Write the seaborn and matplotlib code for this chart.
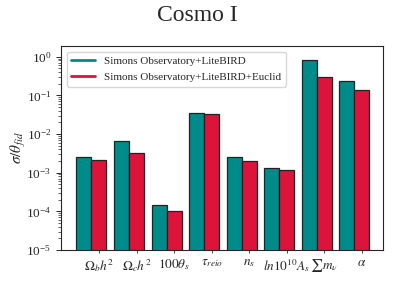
import numpy as np
import pandas as pd
import matplotlib
matplotlib.use("Agg")
import matplotlib.pyplot as plt
import seaborn as sns
from matplotlib.lines import Line2D

params = [r"$\Omega_b h^2$", r"$\Omega_c h^2$", r"$100\theta_s$", r"$\tau_{reio}$",
          r"$n_s$", r"$ln10^{10}A_s$", r"$\sum m_\nu$", r"$\alpha$"]
so_lb = [2.5e-3, 6.6e-3, 1.44e-4, 3.5e-2, 2.5e-3, 1.32e-3, 0.82, 0.23]
so_lb_euclid = [2.1e-3, 3.3e-3, 1.05e-4, 3.3e-2, 1.95e-3, 1.2e-3, 0.30, 0.14]
labels = ["Simons Observatory+LiteBIRD", "Simons Observatory+LiteBIRD+Euclid"]
colors = ["darkcyan", "crimson"]

sns.set_style("ticks")
plt.rcParams['font.family'] = ['Liberation Serif', 'DejaVu Serif']
plt.rcParams['mathtext.fontset'] = 'stix'

df = pd.DataFrame({
    "param": params * 2,
    "value": so_lb + so_lb_euclid,
    "exp": [labels[0]] * len(params) + [labels[1]] * len(params),
})

fig = plt.figure(figsize=(3.97, 2.83), dpi=100)
ax = fig.add_axes([0.1537, 0.1166, 0.811, 0.721])
sns.barplot(data=df, x="param", y="value", hue="exp", palette=colors,
            saturation=1, edgecolor="#222222", linewidth=0.9, width=0.8,
            ax=ax, legend=False)
ax.set_yscale("log")
ax.set_ylim(1e-5, 1.9)
ax.set_xlim(-0.81, 7.76)
ax.set_xticks(np.arange(len(params)) + 0.2)
ax.set_xticklabels(params, fontsize=9.5)
ax.tick_params(axis="x", length=2, width=0.6, pad=3)
ax.tick_params(axis="y", which="major", labelsize=9.5, length=3.5, width=0.7)
ax.tick_params(axis="y", which="minor", length=2, width=0.5)
ax.set_xlabel("")
ax.set_ylabel(r"$\sigma/\theta_{fid}$", fontsize=11, labelpad=-1)
for s in ax.spines.values():
    s.set_linewidth(0.8)

handles = [Line2D([0], [0], color=c, lw=2) for c in colors]
ax.legend(handles, labels, loc="upper left", fontsize=8, frameon=True,
          handlelength=2.2, borderaxespad=0.5, labelspacing=0.6)

fig.text(0.497, 0.945, "Cosmo I", ha="center", va="center", fontsize=17)
fig.savefig("out.png", dpi=100)
